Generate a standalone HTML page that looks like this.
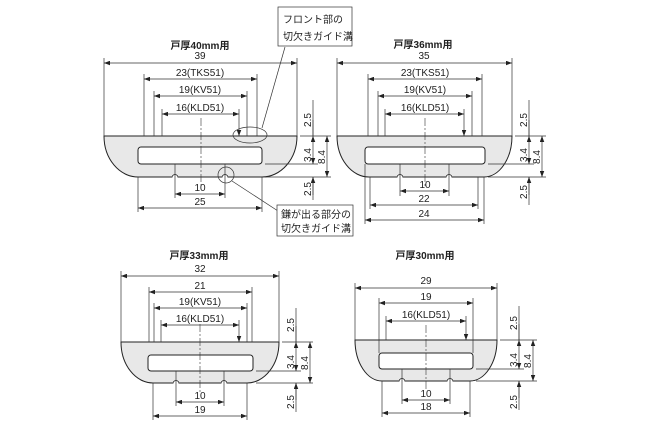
<!DOCTYPE html>
<html><head><meta charset="utf-8"><style>
html,body{margin:0;padding:0;background:#fff}
svg{display:block}
text{font-family:"Liberation Sans","Noto Sans CJK JP",sans-serif;font-size:10px;fill:#222}
.t{font-weight:bold;font-size:10px}
.l{stroke:#333;stroke-width:0.7;fill:none}
.d{stroke:#333;stroke-width:0.7;fill:none;marker-start:url(#a);marker-end:url(#a)}
.b{fill:#e8e8e8;stroke:#222;stroke-width:1}
.s{fill:#fff;stroke:#222;stroke-width:1}
.c{stroke:#333;stroke-width:0.6;stroke-dasharray:8 2 2 2;fill:none}
.dn{stroke:#333;stroke-width:0.7;fill:none;marker-end:url(#a)}
</style></head><body>
<svg width="645" height="434" viewBox="0 0 645 434" xmlns="http://www.w3.org/2000/svg">
<defs>
<marker id="a" viewBox="0 0 8 6" refX="8" refY="3" markerWidth="6" markerHeight="4.5" orient="auto-start-reverse" markerUnits="userSpaceOnUse"><path d="M0,0 L8,3 L0,6 Z" fill="#222"/></marker>
</defs>

<!-- ===== Diagram 1 ===== -->
<text class="t" x="200" y="49" text-anchor="middle">戸厚40mm用</text>
<path class="b" d="M104,136 L297,136 A35,41 0 0 1 262,177 L138,177 A34,41 0 0 1 104,136 Z"/>
<rect class="s" x="138" y="147" width="124" height="17" rx="3"/>
<path d="M172,177.5 a3,3 0 0 1 6,0 M222,177.5 a3,3 0 0 1 6,0" fill="#fff" stroke="#222" stroke-width="0.8"/>
<line class="c" x1="201" y1="118" x2="201" y2="186"/>
<!-- top ext -->
<path class="l" d="M104,58V136 M297,58V136"/>
<line class="d" x1="104" y1="63" x2="297" y2="63"/><text x="200" y="59" text-anchor="middle">39</text>
<path class="dn" d="M144,74V136 M257,74V136 M154,91V136 M247,91V136 M162,109V136 M239,109V136"/>
<line class="d" x1="144" y1="79" x2="257" y2="79"/><text x="200" y="76" text-anchor="middle">23(TKS51)</text>
<line class="d" x1="154" y1="96" x2="247" y2="96"/><text x="200" y="93" text-anchor="middle">19(KV51)</text>
<line class="d" x1="162" y1="114" x2="239" y2="114"/><text x="200" y="111" text-anchor="middle">16(KLD51)</text>
<path class="l" d="M175,164V198 M225,164V198 M138,177V212 M262,177V212"/>
<line class="d" x1="175" y1="194" x2="225" y2="194"/><text x="200" y="191" text-anchor="middle">10</text>
<line class="d" x1="138" y1="208" x2="262" y2="208"/><text x="200" y="205" text-anchor="middle">25</text>
<!-- right dims -->
<path class="l" d="M300,136H331 M265,164H318 M265,177H331 M313,100V136 M313,177V200"/>
<path class="dn" d="M313,120V136 M313,195V177"/>
<line class="d" x1="313" y1="136" x2="313" y2="164"/>
<line class="d" x1="327" y1="136" x2="327" y2="177"/>
<text transform="translate(311,120) rotate(-90)" text-anchor="middle">2.5</text>
<text transform="translate(311,155) rotate(-90)" text-anchor="middle">3.4</text>
<text transform="translate(325,157) rotate(-90)" text-anchor="middle">8.4</text>
<text transform="translate(311,189) rotate(-90)" text-anchor="middle">2.5</text>
<!-- callouts -->
<ellipse cx="250" cy="135" rx="17" ry="8" class="l"/>
<path class="l" d="M285,47 L262,128"/>
<rect x="278" y="7" width="74" height="39" fill="#fff" stroke="#333" stroke-width="0.7"/>
<text x="283" y="23">フロント部の</text><text x="283" y="40">切欠きガイド溝</text>
<circle cx="226" cy="175" r="8" class="l"/>
<path class="l" d="M232,181 L278,211"/>
<rect x="277" y="205" width="76" height="31" fill="#fff" stroke="#333" stroke-width="0.7"/>
<text x="281" y="218">鎌が出る部分の</text><text x="281" y="232">切欠きガイド溝</text>

<!-- ===== Diagram 2 ===== -->
<text class="t" x="423" y="48" text-anchor="middle">戸厚36mm用</text>
<path class="b" d="M337,136 L512,136 A28,41 0 0 1 484,177 L369,177 A32,41 0 0 1 337,136 Z"/>
<rect class="s" x="365" y="147" width="120" height="17" rx="3"/>
<path d="M397,177.5 a3,3 0 0 1 6,0 M446,177.5 a3,3 0 0 1 6,0" fill="#fff" stroke="#222" stroke-width="0.8"/>
<line class="c" x1="425" y1="118" x2="425" y2="186"/>
<path class="l" d="M337,58V136 M512,58V136"/>
<line class="d" x1="337" y1="63" x2="512" y2="63"/><text x="424" y="59" text-anchor="middle">35</text>
<path class="dn" d="M368,74V136 M482,74V136 M378,91V136 M472,91V136 M385,109V136 M464,109V136"/>
<line class="d" x1="368" y1="79" x2="482" y2="79"/><text x="425" y="76" text-anchor="middle">23(TKS51)</text>
<line class="d" x1="378" y1="96" x2="472" y2="96"/><text x="425" y="93" text-anchor="middle">19(KV51)</text>
<line class="d" x1="385" y1="114" x2="464" y2="114"/><text x="425" y="111" text-anchor="middle">16(KLD51)</text>
<path class="l" d="M400,164V196 M449,164V196 M370,177V209 M478,177V209 M365,164V224 M484,177V224"/>
<line class="d" x1="400" y1="191" x2="449" y2="191"/><text x="425" y="188" text-anchor="middle">10</text>
<line class="d" x1="370" y1="205" x2="478" y2="205"/><text x="424" y="202" text-anchor="middle">22</text>
<line class="d" x1="365" y1="220" x2="484" y2="220"/><text x="424" y="217" text-anchor="middle">24</text>
<path class="l" d="M515,136H546 M488,164H534 M488,177H546 M529,100V136 M529,177V205"/>
<path class="dn" d="M529,120V136 M529,195V177"/>
<line class="d" x1="529" y1="136" x2="529" y2="164"/>
<line class="d" x1="542" y1="136" x2="542" y2="177"/>
<text transform="translate(527,120) rotate(-90)" text-anchor="middle">2.5</text>
<text transform="translate(527,155) rotate(-90)" text-anchor="middle">3.4</text>
<text transform="translate(540,157) rotate(-90)" text-anchor="middle">8.4</text>
<text transform="translate(527,192) rotate(-90)" text-anchor="middle">2.5</text>

<!-- ===== Diagram 3 ===== -->
<text class="t" x="199" y="259" text-anchor="middle">戸厚33mm用</text>
<path class="b" d="M121,342 L279,342 A32,41 0 0 1 247,383 L153,383 A32,41 0 0 1 121,342 Z"/>
<rect class="s" x="148" y="355" width="105" height="16" rx="3"/>
<path d="M173,383.5 a3,3 0 0 1 6,0 M221,383.5 a3,3 0 0 1 6,0" fill="#fff" stroke="#222" stroke-width="0.8"/>
<line class="c" x1="200" y1="324" x2="200" y2="392"/>
<path class="l" d="M121,271V342 M279,271V342"/>
<line class="d" x1="121" y1="276" x2="279" y2="276"/><text x="200" y="272" text-anchor="middle">32</text>
<path class="l" d="M149,287V342 M252,287V342"/>
<line class="d" x1="149" y1="292" x2="252" y2="292"/><text x="200" y="289" text-anchor="middle">21</text>
<path class="dn" d="M154,303V342 M247,303V342 M161,320V342 M239,320V342"/>
<line class="d" x1="154" y1="308" x2="247" y2="308"/><text x="200" y="305" text-anchor="middle">19(KV51)</text>
<line class="d" x1="161" y1="325" x2="239" y2="325"/><text x="200" y="322" text-anchor="middle">16(KLD51)</text>
<path class="l" d="M176,371V406 M224,371V406 M153,383V420 M247,383V420"/>
<line class="d" x1="176" y1="402" x2="224" y2="402"/><text x="200" y="399" text-anchor="middle">10</text>
<line class="d" x1="153" y1="416" x2="247" y2="416"/><text x="200" y="413" text-anchor="middle">19</text>
<path class="l" d="M282,342H313 M256,371H301 M256,383H313 M296,308V342 M296,383V412"/>
<path class="dn" d="M296,326V342 M296,400V383"/>
<line class="d" x1="296" y1="342" x2="296" y2="371"/>
<line class="d" x1="310" y1="342" x2="310" y2="383"/>
<text transform="translate(294,325) rotate(-90)" text-anchor="middle">2.5</text>
<text transform="translate(294,362) rotate(-90)" text-anchor="middle">3.4</text>
<text transform="translate(308,363) rotate(-90)" text-anchor="middle">8.4</text>
<text transform="translate(294,402) rotate(-90)" text-anchor="middle">2.5</text>

<!-- ===== Diagram 4 ===== -->
<text class="t" x="425" y="259" text-anchor="middle">戸厚30mm用</text>
<path class="b" d="M355,340 L497,340 A27,41 0 0 1 470,381 L382,381 A27,41 0 0 1 355,340 Z"/>
<rect class="s" x="379" y="353" width="94" height="16" rx="3"/>
<path d="M399,381.5 a3,3 0 0 1 6,0 M447,381.5 a3,3 0 0 1 6,0" fill="#fff" stroke="#222" stroke-width="0.8"/>
<line class="c" x1="426" y1="325" x2="426" y2="390"/>
<path class="l" d="M355,283V340 M497,283V340"/>
<line class="d" x1="355" y1="288" x2="497" y2="288"/><text x="426" y="284" text-anchor="middle">29</text>
<path class="l" d="M379,298V353 M473,298V353"/>
<line class="d" x1="379" y1="303" x2="473" y2="303"/><text x="426" y="300" text-anchor="middle">19</text>
<path class="dn" d="M386,316V340 M466,316V340"/>
<line class="d" x1="386" y1="321" x2="466" y2="321"/><text x="426" y="318" text-anchor="middle">16(KLD51)</text>
<path class="l" d="M402,369V404 M450,369V404 M382,381V417 M470,381V417"/>
<line class="d" x1="402" y1="400" x2="450" y2="400"/><text x="426" y="397" text-anchor="middle">10</text>
<line class="d" x1="382" y1="413" x2="470" y2="413"/><text x="426" y="410" text-anchor="middle">18</text>
<path class="l" d="M500,340H537 M476,369H524 M476,381H537 M519,306V340 M519,381V410"/>
<path class="dn" d="M519,324V340 M519,398V381"/>
<line class="d" x1="519" y1="340" x2="519" y2="369"/>
<line class="d" x1="533" y1="340" x2="533" y2="381"/>
<text transform="translate(517,323) rotate(-90)" text-anchor="middle">2.5</text>
<text transform="translate(517,360) rotate(-90)" text-anchor="middle">3.4</text>
<text transform="translate(531,361) rotate(-90)" text-anchor="middle">8.4</text>
<text transform="translate(517,402) rotate(-90)" text-anchor="middle">2.5</text>
</svg>
</body></html>
